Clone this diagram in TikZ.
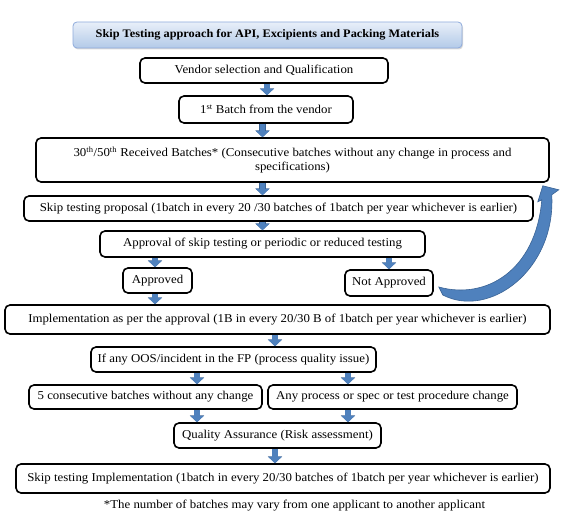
\documentclass[tikz,border=0pt]{standalone}
\usepackage{fontspec}
\setmainfont{Liberation Serif}[FakeStretch=1.07]
\usetikzlibrary{arrows.meta, positioning, shadows, calc}
\definecolor{arrowblue}{HTML}{4F81BD}
\definecolor{arrowedge}{HTML}{3A6395}
\definecolor{titletop}{HTML}{E8EFF9}
\definecolor{titlebot}{HTML}{B3CAE8}
\definecolor{titleedge}{HTML}{8EAADB}

\begin{document}
\begin{tikzpicture}[x=1pt, y=-1pt,
  stepbox/.style={rectangle, rounded corners=5pt, draw=black, line width=1.6pt,
                  inner sep=1pt, align=center, font=\fontsize{12}{14.5}\selectfont},
  titlebox/.style={rectangle, rounded corners=4pt, draw=titleedge, line width=0.8pt,
                   top color=titletop, bottom color=titlebot,
                   drop shadow={opacity=0.3, shadow xshift=1pt, shadow yshift=-1.5pt},
                   font=\fontsize{11.5}{14}\selectfont\bfseries},
  blk/.style={-{Triangle[length=6pt, width=12.5pt]}, line width=5.6pt, draw=arrowblue,
              preaction={draw=arrowedge, line width=6.8pt, -{Triangle[length=6.8pt, width=14pt]}}},
]
  \useasboundingbox (0,0) rectangle (563,524);

  %% Title
  \node[titlebox, minimum width=389pt, minimum height=26pt] (title) at (267.5,35)
       {Skip Testing approach for API, Excipients and Packing Materials};

  %% Vendor and first batches
  \node[stepbox, minimum width=248pt, minimum height=25pt] (vendor) at (264,70.5)
       {Vendor selection and Qualification};
  \node[stepbox, minimum width=174pt, minimum height=27pt] (first) at (266,109.5)
       {1\textsuperscript{st} Batch from the vendor};
  \node[stepbox, minimum width=513pt, minimum height=44pt] (received) at (292.5,160)
       {30\textsuperscript{th}/50\textsuperscript{th} Received Batches* (Consecutive batches without any change in process and\\specifications)};

  %% Proposal and approval
  \node[stepbox, minimum width=509pt, minimum height=25pt] (proposal) at (278.5,208.5)
       {Skip testing proposal (1batch in every 20 /30 batches of 1batch per year whichever is earlier)};
  \node[stepbox, minimum width=325pt, minimum height=26pt] (approval) at (262.5,244)
       {Approval of skip testing or periodic or reduced testing};
  \node[stepbox, minimum width=69pt, minimum height=25pt] (approved) at (157.5,280.5) {Approved};
  \node[stepbox, minimum width=88pt, minimum height=26pt] (notappr) at (389,283) {Not Approved};

  %% Implementation and follow-up
  \node[stepbox, minimum width=545pt, minimum height=29pt] (implement) at (277.5,319.5)
       {Implementation as per the approval (1B in every 20/30 B of 1batch per year whichever is earlier)};
  \node[stepbox, minimum width=285pt, minimum height=25pt] (oos) at (233.5,359.5)
       {If any OOS/incident in the FP (process quality issue)};
  \node[stepbox, minimum width=233pt, minimum height=24pt] (nochange) at (145.5,397)
       {5 consecutive batches without any change};
  \node[stepbox, minimum width=249pt, minimum height=24pt] (change) at (392.5,397)
       {Any process or spec or test procedure change};
  \node[stepbox, minimum width=207pt, minimum height=25pt] (qa) at (277.5,435.5)
       {Quality Assurance (Risk assessment)};
  \node[stepbox, minimum width=534pt, minimum height=29pt] (skipimpl) at (283,478.5)
       {Skip testing Implementation (1batch in every 20/30 batches of 1batch per year whichever is earlier)};
  \node[inner sep=0pt, font=\fontsize{12}{14}\selectfont] (note) at (294.5,506)
       {*The number of batches may vary from one applicant to another applicant};

  %% columns for the arrows
  \coordinate (apx)  at ([xshift=-2.5pt]approved.north);
  \coordinate (midx) at ([xshift=-2.5pt]implement.south);
  \coordinate (lcol) at ([xshift=-36.5pt]oos.south);
  \coordinate (rcol) at ([xshift=-44.5pt]change.north);

  \draw[blk] ([xshift=3pt]vendor.south) -- ([xshift=1pt]first.north);
  \draw[blk] (first.south -| approval.north) -- (received.north -| approval.north);
  \draw[blk] (received.south -| approval.north) -- (proposal.north -| approval.north);
  \draw[blk] (proposal.south -| approval.north) -- (approval.north);
  \draw[blk] (approval.south -| apx) -- (apx);
  \draw[blk] (approval.south -| notappr.north) -- (notappr.north);
  \draw[blk] (approved.south -| apx) -- (implement.north -| apx);
  \draw[blk] (midx) -- (oos.north -| midx);
  \draw[blk] (lcol) -- (nochange.north -| lcol);
  \draw[blk] (oos.south -| rcol) -- (rcol);
  \draw[blk] (nochange.south -| lcol) -- (qa.north -| lcol);
  \draw[blk] (change.south -| rcol) -- (qa.north -| rcol);
  \draw[blk] (qa.south -| midx) -- (skipimpl.north -| midx);

  %% loop back when not approved
  \fill[arrowblue, draw=arrowedge, line width=0.6pt]
    ($(notappr.east)+(5,4)$) .. controls +(47,13) and +(-6,71) .. ($(received.south east)+(-8,17)$)
    -- ++(-4,2) -- ($(received.south east)+(-7,3)$) -- ++(16,4) -- ++(-7,5)
    .. controls +(4,76) and +(46,24) .. ($(notappr.east)+(9,12)$) -- cycle;
\end{tikzpicture}
\end{document}
